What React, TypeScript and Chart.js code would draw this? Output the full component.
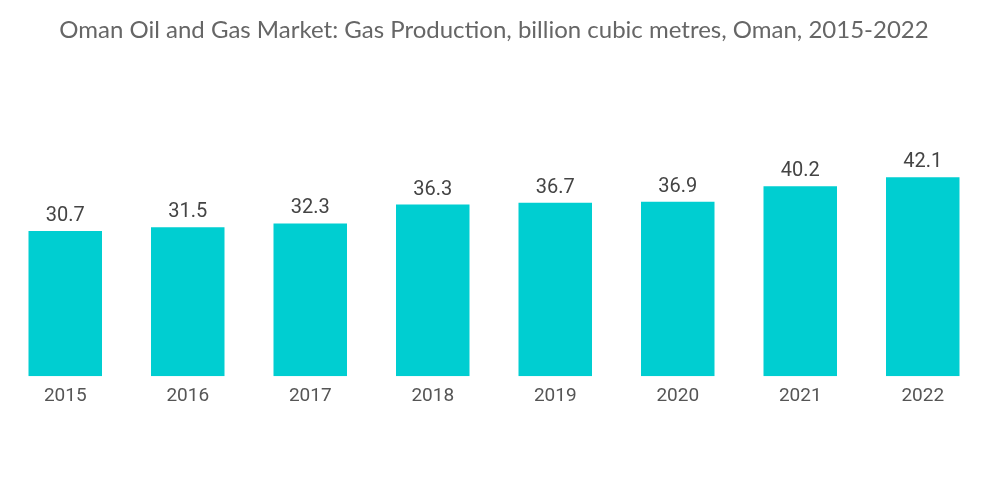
import React, { useEffect, useRef } from "react";
import { Chart, registerables } from "chart.js";

Chart.register(...registerables);

const categories = ["2015", "2016", "2017", "2018", "2019", "2020", "2021", "2022"];
const gasProduction = [30.7, 31.5, 32.3, 36.3, 36.7, 36.9, 40.2, 42.1];
const titleText = "Oman Oil and Gas Market: Gas Production, billion cubic metres, Oman, 2015-2022";

const valueLabels = {
  id: "valueLabels",
  afterDatasetsDraw(chart: any) {
    const ctx = chart.ctx;
    const meta = chart.getDatasetMeta(0);
    ctx.save();
    ctx.font = "20px Roboto";
    ctx.fillStyle = "#444444";
    ctx.textAlign = "center";
    ctx.textBaseline = "bottom";
    meta.data.forEach((bar: any, i: number) => {
      ctx.fillText(String(gasProduction[i]), bar.x, bar.y - 5);
    });
    ctx.restore();
  },
};

export default function App() {
  const ref = useRef<HTMLCanvasElement>(null);
  useEffect(() => {
    document.body.style.margin = "0";
    const chart = new Chart(ref.current!, {
      type: "bar",
      data: {
        labels: categories,
        datasets: [
          {
            data: gasProduction,
            backgroundColor: "#00CED1",
            categoryPercentage: 0.8,
            barPercentage: 0.75,
          },
        ],
      },
      options: {
        animation: false,
        responsive: false,
        layout: { padding: { left: 4, right: 16, top: 0, bottom: 87 } },
        plugins: {
          legend: { display: false },
          tooltip: { enabled: false },
          title: {
            display: true,
            text: titleText,
            color: "#666666",
            font: { family: "Lato", size: 24, weight: "normal" },
            padding: { top: 16, bottom: 95 },
          },
        },
        scales: {
          x: {
            grid: { display: false, drawTicks: false },
            border: { display: false },
            ticks: { color: "#555555", font: { family: "Roboto", size: 19 }, padding: 9 },
          },
          y: {
            display: false,
            min: 0,
            max: 50,
          },
        },
      },
      plugins: [valueLabels],
    });
    return () => chart.destroy();
  }, []);
  return (
    <div style={{ width: 1000, height: 504 }}>
      <canvas ref={ref} width={1000} height={504} style={{ width: 1000, height: 504 }} />
    </div>
  );
}
